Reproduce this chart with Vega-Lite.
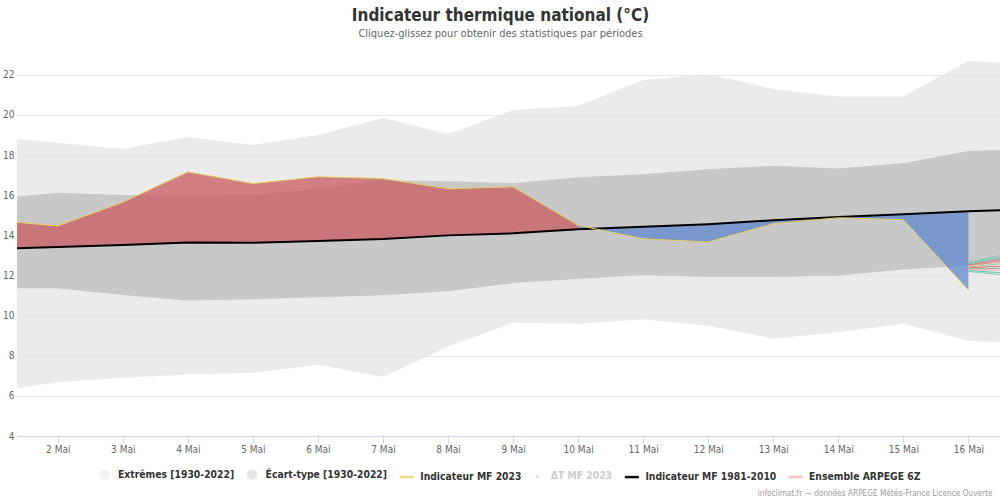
{
  "$schema": "https://vega.github.io/schema/vega-lite/v6.json",
  "width": 983,
  "height": 385,
  "autosize": {"type": "none"},
  "padding": {"left": 17, "top": 51, "right": 0, "bottom": 64},
  "background": "#ffffff",
  "config": {
    "font": "DejaVu Sans Condensed",
    "view": {"stroke": null},
    "legend": {"layout": {"bottom": {"anchor": "middle"}}}
  },
  "title": {
    "text": "Indicateur thermique national (°C)",
    "subtitle": "Cliquez-glissez pour obtenir des statistiques par périodes",
    "anchor": "middle",
    "dx": -8,
    "fontSize": 17,
    "fontWeight": "bold",
    "color": "#333333",
    "subtitleFontSize": 11,
    "subtitleColor": "#666666",
    "subtitlePadding": 3,
    "offset": 11
  },
  "datasets": {
    "jours": [
      {"jour": 1, "extMin": 6.2, "extMax": 18.91, "sdMin": 11.36, "sdMax": 15.81, "clim": 13.32, "obs": 14.76},
      {"jour": 2, "extMin": 6.68, "extMax": 18.62, "sdMin": 11.36, "sdMax": 16.13, "clim": 13.42, "obs": 14.47},
      {"jour": 3, "extMin": 6.9, "extMax": 18.3, "sdMin": 11.03, "sdMax": 16.01, "clim": 13.52, "obs": 15.65},
      {"jour": 4, "extMin": 7.07, "extMax": 18.9, "sdMin": 10.75, "sdMax": 16.0, "clim": 13.64, "obs": 17.16},
      {"jour": 5, "extMin": 7.15, "extMax": 18.5, "sdMin": 10.82, "sdMax": 16.03, "clim": 13.63, "obs": 16.58},
      {"jour": 6, "extMin": 7.55, "extMax": 19.0, "sdMin": 10.92, "sdMax": 16.33, "clim": 13.72, "obs": 16.92},
      {"jour": 7, "extMin": 6.95, "extMax": 19.85, "sdMin": 11.02, "sdMax": 16.75, "clim": 13.82, "obs": 16.83},
      {"jour": 8, "extMin": 8.45, "extMax": 19.05, "sdMin": 11.22, "sdMax": 16.7, "clim": 14.0, "obs": 16.32},
      {"jour": 9, "extMin": 9.65, "extMax": 20.25, "sdMin": 11.62, "sdMax": 16.6, "clim": 14.1, "obs": 16.42},
      {"jour": 10, "extMin": 9.6, "extMax": 20.45, "sdMin": 11.82, "sdMax": 16.9, "clim": 14.3, "obs": 14.5},
      {"jour": 11, "extMin": 9.82, "extMax": 21.75, "sdMin": 12.03, "sdMax": 17.05, "clim": 14.43, "obs": 13.83},
      {"jour": 12, "extMin": 9.5, "extMax": 22.03, "sdMin": 11.92, "sdMax": 17.3, "clim": 14.56, "obs": 13.67},
      {"jour": 13, "extMin": 8.85, "extMax": 21.3, "sdMin": 11.92, "sdMax": 17.47, "clim": 14.75, "obs": 14.58},
      {"jour": 14, "extMin": 9.17, "extMax": 20.92, "sdMin": 12.0, "sdMax": 17.33, "clim": 14.92, "obs": 14.88},
      {"jour": 15, "extMin": 9.6, "extMax": 20.92, "sdMin": 12.3, "sdMax": 17.6, "clim": 15.05, "obs": 14.78},
      {"jour": 16, "extMin": 8.75, "extMax": 22.7, "sdMin": 12.5, "sdMax": 18.2, "clim": 15.2, "obs": 11.28},
      {"jour": 17, "extMin": 8.58, "extMax": 22.48, "sdMin": 12.75, "sdMax": 18.31, "clim": 15.31, "obs": null}
    ],
    "ensemble": [
      {"jour": 16, "membre": "m01", "valeur": 12.62}, {"jour": 17, "membre": "m01", "valeur": 13.38},
      {"jour": 16, "membre": "m02", "valeur": 12.58}, {"jour": 17, "membre": "m02", "valeur": 13.2},
      {"jour": 16, "membre": "m03", "valeur": 12.52}, {"jour": 17, "membre": "m03", "valeur": 13.05},
      {"jour": 16, "membre": "m04", "valeur": 12.48}, {"jour": 17, "membre": "m04", "valeur": 12.9},
      {"jour": 16, "membre": "m05", "valeur": 12.42}, {"jour": 17, "membre": "m05", "valeur": 12.75},
      {"jour": 16, "membre": "m06", "valeur": 12.38}, {"jour": 17, "membre": "m06", "valeur": 12.55},
      {"jour": 16, "membre": "m07", "valeur": 12.32}, {"jour": 17, "membre": "m07", "valeur": 12.4},
      {"jour": 16, "membre": "m08", "valeur": 12.28}, {"jour": 17, "membre": "m08", "valeur": 12.25},
      {"jour": 16, "membre": "m09", "valeur": 12.24}, {"jour": 17, "membre": "m09", "valeur": 12.05},
      {"jour": 16, "membre": "m10", "valeur": 12.2}, {"jour": 17, "membre": "m10", "valeur": 11.9}
    ],
    "legende": [
      {"serie": "Extrêmes [1930-2022]"},
      {"serie": "Écart-type [1930-2022]"},
      {"serie": "Indicateur MF 2023"},
      {"serie": "ΔT MF 2023"},
      {"serie": "Indicateur MF 1981-2010"},
      {"serie": "Ensemble ARPEGE 6Z"}
    ]
  },
  "layer": [
    {
      "data": {"name": "jours"},
      "mark": {"type": "area", "color": "#e4e4e4", "opacity": 0.75, "clip": true},
      "encoding": {
        "x": {
          "field": "jour", "type": "quantitative",
          "scale": {"domain": [1.374, 16.486], "nice": false, "zero": false},
          "axis": {
            "values": [2, 3, 4, 5, 6, 7, 8, 9, 10, 11, 12, 13, 14, 15, 16],
            "labelExpr": "datum.value + ' Mai'",
            "grid": false,
            "domainColor": "#ccd6eb",
            "tickColor": "#ccd6eb",
            "tickSize": 7,
            "labelPadding": 1,
            "labelColor": "#666666",
            "labelFontSize": 10,
            "title": "infoclimat.fr — données ARPEGE Météo-France Licence Ouverte",
            "titleFontSize": 8.2,
            "titleFontWeight": "normal",
            "titleColor": "#999999",
            "titleAnchor": "end",
            "titleAlign": "right",
            "titleX": 975,
            "titlePadding": 35
          }
        },
        "y": {
          "field": "extMax", "type": "quantitative",
          "scale": {"domain": [4, 23.19], "nice": false, "zero": false},
          "axis": {
            "values": [4, 6, 8, 10, 12, 14, 16, 18, 20, 22],
            "domain": false,
            "ticks": false,
            "gridColor": "#e6e6e6",
            "labelColor": "#666666",
            "labelFontSize": 10,
            "labelPadding": 3,
            "title": null
          }
        },
        "y2": {"field": "extMin"}
      }
    },
    {
      "data": {"name": "jours"},
      "mark": {"type": "area", "color": "#bcbcbc", "opacity": 0.75, "clip": true},
      "encoding": {
        "x": {"field": "jour", "type": "quantitative"},
        "y": {"field": "sdMax", "type": "quantitative"},
        "y2": {"field": "sdMin"}
      }
    },
    {
      "data": {"name": "jours"},
      "transform": [{"filter": "datum.jour <= 10"}],
      "mark": {"type": "area", "color": "#c85e63", "opacity": 0.77, "clip": true},
      "encoding": {
        "x": {"field": "jour", "type": "quantitative"},
        "y": {"field": "obs", "type": "quantitative"},
        "y2": {"field": "clim"}
      }
    },
    {
      "data": {"name": "jours"},
      "transform": [{"filter": "datum.jour >= 10 && datum.jour <= 16"}],
      "mark": {"type": "area", "color": "#638acd", "opacity": 0.77, "clip": true},
      "encoding": {
        "x": {"field": "jour", "type": "quantitative"},
        "y": {"field": "obs", "type": "quantitative"},
        "y2": {"field": "clim"}
      }
    },
    {
      "data": {"name": "ensemble"},
      "mark": {"type": "line", "strokeWidth": 1, "opacity": 0.9, "clip": true},
      "encoding": {
        "x": {"field": "jour", "type": "quantitative"},
        "y": {"field": "valeur", "type": "quantitative"},
        "color": {
          "field": "membre", "type": "nominal", "legend": null,
          "scale": {"range": ["#6cc9a0", "#5fbfb8", "#e06a6a", "#ee8f8f", "#8cc48c", "#d85858", "#8fa39a", "#f2a6a6", "#5fbfb8", "#6cc9a0"]}
        }
      }
    },
    {
      "data": {"name": "jours"},
      "mark": {"type": "line", "color": "#000000", "strokeWidth": 2, "clip": true},
      "encoding": {
        "x": {"field": "jour", "type": "quantitative"},
        "y": {"field": "clim", "type": "quantitative"}
      }
    },
    {
      "data": {"name": "jours"},
      "mark": {"type": "line", "color": "#e3cc5c", "strokeWidth": 1, "clip": true},
      "encoding": {
        "x": {"field": "jour", "type": "quantitative"},
        "y": {"field": "obs", "type": "quantitative"}
      }
    },
    {
      "data": {"name": "legende"},
      "mark": {"type": "point", "opacity": 0, "filled": true},
      "encoding": {
        "fill": {
          "field": "serie", "type": "nominal",
          "scale": {
            "domain": ["Extrêmes [1930-2022]", "Écart-type [1930-2022]", "Indicateur MF 2023", "ΔT MF 2023", "Indicateur MF 1981-2010", "Ensemble ARPEGE 6Z"],
            "range": ["#f2f2f2", "#e6e6e6", "#e8da8a", "#dddddd", "#111111", "#f6c4c4"]
          },
          "legend": {
            "title": null,
            "orient": "bottom",
            "direction": "horizontal",
            "offset": -31,
            "symbolOpacity": 1,
            "symbolType": {"expr": "datum.label == 'Extrêmes [1930-2022]' || datum.label == 'Écart-type [1930-2022]' || datum.label == 'ΔT MF 2023' ? 'circle' : 'stroke'"},
            "symbolSize": {"expr": "datum.label == 'ΔT MF 2023' ? 12 : (datum.label == 'Extrêmes [1930-2022]' || datum.label == 'Écart-type [1930-2022]' ? 110 : 200)"},
            "symbolStrokeColor": {"expr": "datum.label == 'Indicateur MF 2023' ? '#e8da8a' : datum.label == 'Indicateur MF 1981-2010' ? '#111111' : datum.label == 'Ensemble ARPEGE 6Z' ? '#f6c4c4' : 'transparent'"},
            "symbolStrokeWidth": 2.5,
            "labelFont": "DejaVu Sans Condensed",
            "labelFontSize": 10.3,
            "labelFontWeight": "bold",
            "labelColor": {"expr": "datum.label == 'ΔT MF 2023' ? '#cccccc' : '#333333'"},
            "labelOffset": 5,
            "columnPadding": 6.6,
            "labelLimit": 300
          }
        }
      }
    }
  ]
}
